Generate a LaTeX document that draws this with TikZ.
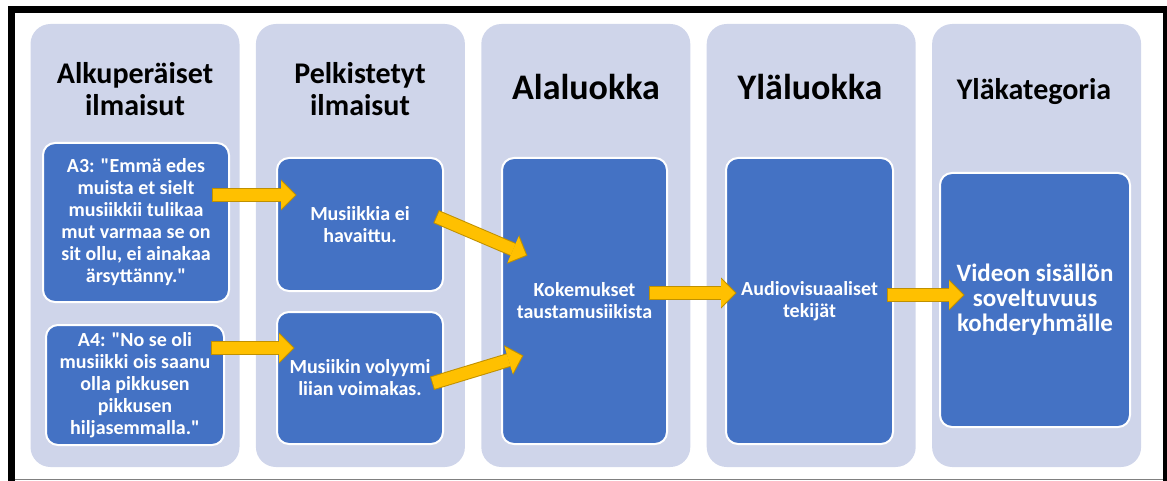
\documentclass[tikz,border=0pt]{standalone}
\usepackage{fontspec}
\setmainfont{Carlito}[Ligatures=TeXOff]
\usetikzlibrary{arrows.meta,positioning}

\definecolor{colfill}{HTML}{CFD5EA}
\definecolor{boxfill}{HTML}{4472C4}
\definecolor{arrowfill}{HTML}{FFC000}
\definecolor{arrowline}{HTML}{BF9000}

\tikzset{
  column/.style={fill=colfill, rounded corners=20pt, minimum width=209pt, minimum height=443pt, inner sep=0pt},
  catbox/.style={fill=boxfill, draw=white, line width=2pt, rounded corners=12pt, inner sep=0pt,
    text=white, align=center, font=\bfseries\fontsize{20}{22}\selectfont},
  coltitle/.style={align=center, inner sep=0pt, font=\bfseries\fontsize{30}{32}\selectfont},
  bigtitle/.style={inner sep=0pt, anchor=base, font=\bfseries\fontsize{36}{38}\selectfont},
  flowarrow/.style={line width=12pt, draw=arrowfill, -{Triangle[width=28pt,length=14pt,line width=0pt]},
    preaction={draw=arrowline, line width=14pt, shorten >=-1.5pt, shorten <=-1pt,
      -{Triangle[width=31pt,length=15.5pt,line width=0pt]}}}
}

\begin{document}
\begin{tikzpicture}[x=1pt,y=-1pt]
  \useasboundingbox (0,0) rectangle (1167,481);

  % frame
  \fill[black] (8,6) rectangle (15,481);
  \fill[black] (8,6) rectangle (1167,13);
  \fill[black] (1163,6) rectangle (1167,481);
  \draw[gray, line width=1pt] (15,479.5) -- (1163,479.5);

  % columns
  \node[column] (col1) at (135,245.5) {};
  \node[column, right=16pt of col1] (col2) {};
  \node[column, right=16pt of col2] (col3) {};
  \node[column, right=16pt of col3] (col4) {};
  \node[column, right=16pt of col4] (col5) {};

  \node[coltitle] (t1) at (135,89) {Alkuperäiset\\ilmaisut};
  \node[coltitle] (t2) at (360,89) {Pelkistetyt\\ilmaisut};
  \node[bigtitle] (t3) at (586,100) {Alaluokka};
  \node[bigtitle] (t4) at (810,100) {Yläluokka};
  \node[coltitle, anchor=base] (t5) at (1034,100) {Yläkategoria};

  % boxes
  \node[catbox, minimum width=186pt, minimum height=159pt] (a3) at (136,222.5)
    {A3: "Emmä edes\\muista et sielt\\musiikkii tulikaa\\mut varmaa se on\\sit ollu, ei ainakaa\\ärsyttänny."};
  \node[catbox, minimum width=178pt, minimum height=120pt] (a4) at (135,385)
    {A4: "No se oli\\musiikki ois saanu\\olla pikkusen\\pikkusen\\hiljasemmalla."};
  \node[catbox, minimum width=166pt, minimum height=133pt] (p1) at (360,224.5)
    {Musiikkia ei\\havaittu.};
  \node[catbox, minimum width=166pt, minimum height=132pt] (p2) at (360,378)
    {Musiikin volyymi\\liian voimakas.};
  \node[catbox, minimum width=165pt, minimum height=286pt] (sub) at (584.5,301)
    {Kokemukset\\taustamusiikista};
  \node[catbox, minimum width=167pt, minimum height=286pt] (upper) at (809.5,301)
    {Audiovisuaaliset\\tekijät};
  \node[catbox, minimum width=190pt, minimum height=254pt, font=\bfseries\fontsize{25}{25}\selectfont] (main) at (1035,300)
    {Videon sisällön\\soveltuvuus\\kohderyhmälle};

  % arrow ends
  \coordinate (ar1s) at (213,195);
  \coordinate (ar1e) at (295,195);
  \coordinate (ar2s) at (212,348);
  \coordinate (ar2e) at (293,348);
  \coordinate (ar3s) at (437,217);
  \coordinate (ar3e) at (526,255);
  \coordinate (ar4s) at (433,383);
  \coordinate (ar4e) at (522,356);
  \coordinate (ar5s) at (650,293);
  \coordinate (ar5e) at (735,293);
  \coordinate (ar6s) at (888,295);
  \coordinate (ar6e) at (963,295);

  \foreach \i in {1,...,6}{
    \draw[flowarrow] (ar\i s) -- (ar\i e);
  }

\end{tikzpicture}
\end{document}
